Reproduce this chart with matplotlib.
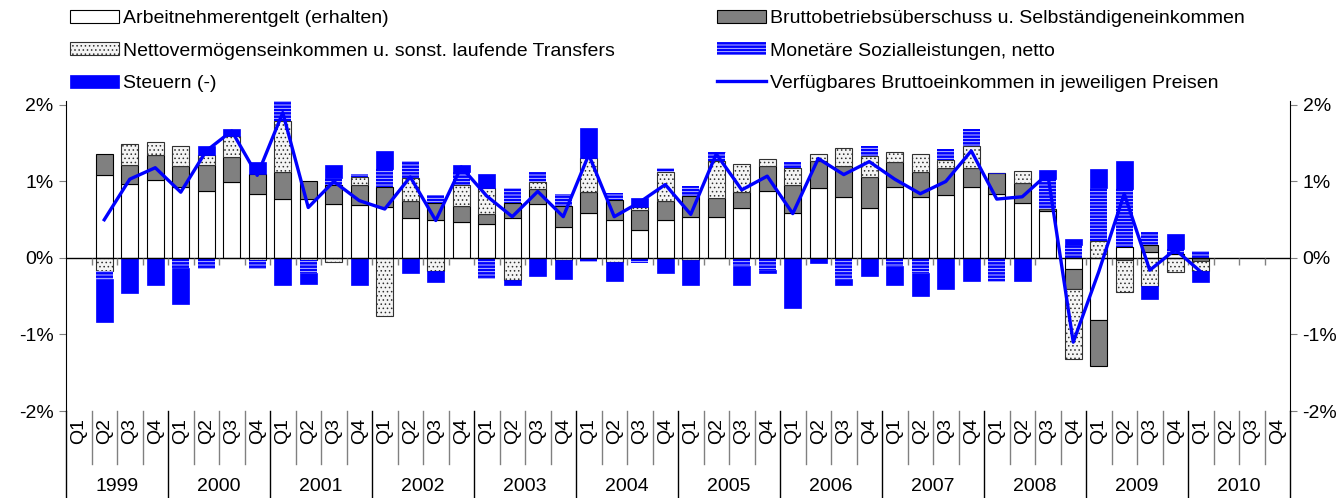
"""Beiträge zum verfügbaren Bruttoeinkommen, Veränderung ggü. Vorquartal.

Gestapelte Balken (positive und negative Beiträge getrennt gestapelt)
plus Linie für das verfügbare Bruttoeinkommen.
"""
import numpy as np
import matplotlib
matplotlib.use("Agg")
import matplotlib.pyplot as plt
from matplotlib.patches import Patch
from matplotlib.lines import Line2D
import matplotlib.transforms as mtransforms

plt.rcParams["font.family"] = ["Liberation Sans", "DejaVu Sans"]
plt.rcParams["font.size"] = 14
plt.rcParams["hatch.linewidth"] = 0.6

years = [str(y) for y in range(1999, 2011)]
quarters = ["Q1", "Q2", "Q3", "Q4"]
first_q = 1  # Daten beginnen mit 1999 Q2, enden mit 2010 Q1

# Beiträge in Prozentpunkten, 1999 Q2 ... 2010 Q1
arbeitnehmer = [1.09, 0.97, 1.02, 0.93, 0.88, 0.99, 0.84, 0.77, 0.77, 0.71, 0.69, 0.67,
                0.52, 0.50, 0.47, 0.44, 0.52, 0.70, 0.40, 0.59, 0.50, 0.36, 0.50, 0.54,
                0.54, 0.65, 0.88, 0.59, 0.91, 0.80, 0.65, 0.93, 0.80, 0.82, 0.93, 0.83,
                0.72, 0.61, -0.14, -0.81, 0.15, 0.08, 0.05, 0.00]
betriebsueberschuss = [0.27, 0.25, 0.32, 0.27, 0.33, 0.33, 0.26, 0.35, 0.23, 0.24, 0.26, 0.26,
                       0.22, 0.22, 0.21, 0.13, 0.20, 0.20, 0.28, 0.27, 0.26, 0.27, 0.24, 0.27,
                       0.25, 0.21, 0.32, 0.37, 0.36, 0.40, 0.41, 0.32, 0.32, 0.35, 0.25, 0.28,
                       0.26, 0.03, -0.27, -0.60, -0.02, 0.09, 0.00, -0.04]
vermoegen = [-0.17, 0.27, 0.18, 0.27, 0.13, 0.28, -0.02, 0.67, -0.03, -0.05, 0.11, -0.76,
             0.31, -0.17, 0.27, 0.34, -0.29, 0.09, -0.02, 0.45, -0.05, 0.03, 0.39, -0.02,
             0.48, 0.37, 0.10, 0.22, 0.09, 0.24, 0.27, 0.13, 0.24, 0.11, 0.29, 0.00,
             0.16, 0.00, -0.91, 0.22, -0.43, -0.36, -0.18, -0.13]
sozialleistungen = [-0.10, 0.00, 0.00, -0.13, -0.14, 0.00, -0.12, 0.44, -0.17, 0.10, 0.04, 0.23,
                    0.22, 0.10, 0.17, -0.28, 0.20, 0.13, 0.15, -0.05, 0.09, -0.06, 0.04, 0.13,
                    0.12, -0.10, -0.16, 0.08, 0.00, -0.27, 0.14, -0.10, -0.20, 0.14, 0.22, -0.31,
                    0.00, 0.39, 0.17, 0.69, 0.75, 0.17, 0.065, 0.09]
steuern = [-0.57, -0.46, -0.35, -0.47, 0.13, 0.09, 0.15, -0.35, -0.14, 0.16, -0.35, 0.24,
           -0.20, -0.15, 0.09, 0.19, -0.06, -0.23, -0.26, 0.39, -0.25, 0.13, -0.20, -0.33,
           0.00, -0.25, -0.04, -0.66, -0.07, -0.08, -0.24, -0.25, -0.30, -0.41, -0.30, 0.00,
           -0.30, 0.12, 0.08, 0.25, 0.37, -0.17, 0.20, -0.14]
einkommen = [0.50, 1.03, 1.18, 0.86, 1.40, 1.66, 1.08, 1.90, 0.66, 1.00, 0.75, 0.64,
             1.06, 0.49, 1.19, 0.81, 0.54, 0.87, 0.54, 1.35, 0.54, 0.73, 0.96, 0.57,
             1.36, 0.89, 1.07, 0.58, 1.30, 1.09, 1.26, 1.03, 0.84, 1.00, 1.40, 0.77,
             0.80, 1.10, -1.10, -0.18, 0.84, -0.16, 0.11, -0.18]

BLUE = "#0000FF"
styles = [
    ("Arbeitnehmerentgelt (erhalten)", arbeitnehmer,
     dict(facecolor="white", edgecolor="black", linewidth=0.8)),
    ("Bruttobetriebsüberschuss u. Selbständigeneinkommen", betriebsueberschuss,
     dict(facecolor="#808080", edgecolor="black", linewidth=0.8)),
    ("Nettovermögenseinkommen u. sonst. laufende Transfers", vermoegen,
     dict(facecolor="#f4f4f4", edgecolor="#303030", hatch="....", linewidth=0.8)),
    ("Monetäre Sozialleistungen, netto", sozialleistungen,
     dict(facecolor=BLUE, edgecolor="#d8d8ff", hatch="-----", linewidth=0)),
    ("Steuern (-)", steuern,
     dict(facecolor=BLUE, edgecolor=BLUE, linewidth=0.5)),
]

W, H = 1344, 498
fig = plt.figure(figsize=(W / 100, H / 100), dpi=100)
ax = fig.add_axes([66 / W, 87 / H, 1224 / W, 310 / H])

n = len(einkommen)
x = np.arange(first_q, first_q + n)
pos = np.zeros(n)
neg = np.zeros(n)
for label, vals, st in styles:
    v = np.asarray(vals, dtype=float)
    bottom = np.where(v >= 0, pos, neg)
    ax.bar(x, v, bottom=bottom, width=0.66, zorder=2, **st)
    pos += np.clip(v, 0, None)
    neg += np.clip(v, None, 0)

ax.plot(x, einkommen, color=BLUE, lw=2.4, zorder=5)

nq = len(years) * 4
ax.set_xlim(-0.5, nq - 0.5)
ax.set_ylim(-2, 2.052)
ax.set_yticks([-2, -1, 0, 1, 2])
ax.set_yticklabels(["-2%", "-1%", "0%", "1%", "2%"])
ax.tick_params(axis="y", which="both", direction="out", length=5, color="#808080",
               right=True, labelright=True, pad=4)
ax.set_xticks(np.arange(nq))
ax.set_xticklabels(quarters * len(years), rotation=90, va="top", ha="center")
ax.tick_params(axis="x", length=0, pad=5)

for s in ("top", "bottom"):
    ax.spines[s].set_visible(False)

# Nulllinie mit kleinen Teilstrichen
ax.axhline(0, color="black", lw=1, zorder=3)
bounds = np.arange(0.5, nq - 1, 1)
ax.vlines(bounds, -0.09, 0, color="#808080", lw=1, zorder=3)

# Kategorieachse: Trennlinien für Quartale und Jahre
tr = mtransforms.blended_transform_factory(ax.transData, ax.transAxes)
y_bottom = -87 / 310
for b in bounds:
    if (b + 0.5) % 4 == 0:
        ax.plot([b, b], [0, y_bottom], transform=tr, color="black", lw=1, clip_on=False)
    else:
        ax.plot([b, b], [0, -0.17], transform=tr, color="#808080", lw=1, clip_on=False)
for xa in (0, 1):
    ax.plot([xa, xa], [0, y_bottom], transform=ax.transAxes, color="black", lw=1,
            clip_on=False)
for i, yr in enumerate(years):
    ax.text(4 * i + 1.5, -0.245, yr, transform=tr, ha="center", va="center")

# Legende in zwei Blöcken
handles = [Patch(**st) for _, _, st in styles]
labels = [lab for lab, _, _ in styles]
line_handle = Line2D([], [], color=BLUE, lw=2.4)
leg_kw = dict(loc="upper left", frameon=False, borderpad=0, borderaxespad=0,
              handlelength=2.5, handleheight=0.65, handletextpad=0.25,
              labelspacing=0.77)
fig.legend([handles[0], handles[2], handles[4]], [labels[0], labels[2], labels[4]],
           bbox_to_anchor=(70 / W, 1 - 10 / H), **leg_kw)
fig.legend([handles[1], handles[3], line_handle], [labels[1], labels[3],
           "Verfügbares Bruttoeinkommen in jeweiligen Preisen"],
           bbox_to_anchor=(717 / W, 1 - 10 / H), **leg_kw)

fig.savefig("out.png", dpi=100)
